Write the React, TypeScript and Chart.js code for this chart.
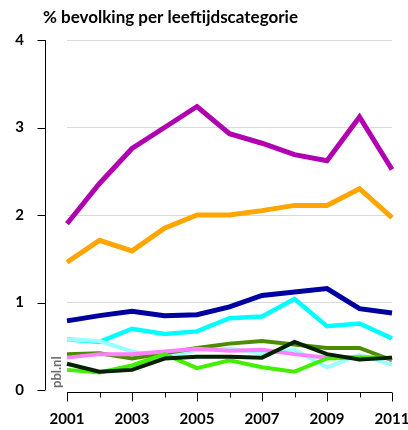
import React, { useEffect, useRef } from "react";
import { Chart, registerables } from "chart.js";

Chart.register(...registerables);

const years = ["2001", "2002", "2003", "2004", "2005", "2006", "2007", "2008", "2009", "2010", "2011"];
const yTicks = [0, 1, 2, 3, 4];
const title = "% bevolking per leeftijdscategorie";
const credit = "pbl.nl";

const magenta = [1.9, 2.36, 2.76, 3.0, 3.24, 2.93, 2.82, 2.69, 2.62, 3.12, 2.52];
const orange = [1.46, 1.71, 1.59, 1.85, 2.0, 2.0, 2.05, 2.11, 2.11, 2.3, 1.97];
const navy = [0.79, 0.85, 0.9, 0.85, 0.86, 0.95, 1.08, 1.12, 1.16, 0.93, 0.88];
const cyan = [0.58, 0.55, 0.7, 0.64, 0.67, 0.82, 0.84, 1.04, 0.73, 0.76, 0.59];
const lightCyan = [0.58, 0.56, 0.44, 0.37, 0.46, 0.47, 0.42, 0.46, 0.26, 0.4, 0.29];
const olive = [0.41, 0.42, 0.36, 0.42, 0.48, 0.53, 0.56, 0.52, 0.48, 0.48, 0.34];
const pink = [0.37, 0.41, 0.41, 0.44, 0.47, 0.45, 0.46, 0.41, 0.37, 0.38, 0.36];
const brightGreen = [0.23, 0.2, 0.28, 0.41, 0.25, 0.34, 0.26, 0.21, 0.36, 0.37, 0.37];
const dark = [0.3, 0.21, 0.23, 0.36, 0.38, 0.38, 0.37, 0.55, 0.41, 0.35, 0.37];

const series = [
  { data: dark, color: "#002200", width: 4 },
  { data: brightGreen, color: "#44EE00", width: 4 },
  { data: pink, color: "#FF80FF", width: 4 },
  { data: olive, color: "#4C8C00", width: 4 },
  { data: lightCyan, color: "#99FFFF", width: 4 },
  { data: cyan, color: "#00FFFF", width: 4.5 },
  { data: navy, color: "#0000A0", width: 5 },
  { data: orange, color: "#FFA500", width: 5 },
  { data: magenta, color: "#B000B0", width: 5 },
];

const decorPlugin = {
  id: "decor",
  afterDraw(chart: any) {
    const ctx: CanvasRenderingContext2D = chart.ctx;
    const y = chart.scales.y;
    const x = chart.scales.x;
    const area = chart.chartArea;
    ctx.save();
    ctx.setLineDash([]);
    ctx.globalAlpha = 1;
    ctx.globalCompositeOperation = "source-over";
    ctx.strokeStyle = "#000000";
    ctx.lineWidth = 1;
    const axX = 45.5;
    const yTop = y.getPixelForValue(4);
    const yBot = y.getPixelForValue(0);
    ctx.beginPath();
    ctx.moveTo(axX, yTop);
    ctx.lineTo(axX, yBot);
    yTicks.forEach((v) => {
      const py = Math.round(y.getPixelForValue(v)) + 0.5;
      ctx.moveTo(axX - 8, py);
      ctx.lineTo(axX, py);
    });
    const axY = Math.round(area.bottom) + 2.5;
    const x0 = x.getPixelForValue(0);
    const x1 = x.getPixelForValue(years.length - 1);
    ctx.moveTo(x0, axY);
    ctx.lineTo(x1, axY);
    years.forEach((_, i) => {
      const px = Math.round(x.getPixelForValue(i)) + 0.5;
      ctx.moveTo(px, axY);
      ctx.lineTo(px, axY + (i % 2 === 0 ? 9 : 5));
    });
    ctx.stroke();
    ctx.fillStyle = "#000";
    ctx.font = "bold 17px Lato";
    ctx.textBaseline = "alphabetic";
    ctx.textAlign = "left";
    ctx.fillText(title, 43, 23);
    ctx.translate(61, 388);
    ctx.rotate(-Math.PI / 2);
    ctx.fillStyle = "#707070";
    ctx.font = "bold 13px Lato";
    ctx.fillText(credit, 0, 0);
    ctx.restore();
  },
};

export default function App() {
  const ref = useRef<HTMLCanvasElement | null>(null);
  useEffect(() => {
    if (!ref.current) return;
    const chart = new Chart(ref.current, {
      type: "line",
      data: {
        labels: years,
        datasets: series.map((s) => ({
          data: s.data,
          borderColor: s.color,
          backgroundColor: s.color,
          borderWidth: s.width,
          pointRadius: 0,
          tension: 0,
          borderJoinStyle: "miter" as const,
          borderCapStyle: "butt" as const,
        })),
      },
      options: {
        animation: false,
        responsive: false,
        layout: { padding: { top: 40, right: 16, left: 0, bottom: 0 } },
        plugins: { legend: { display: false }, tooltip: { enabled: false }, title: { display: false } },
        scales: {
          x: {
            offset: false,
            grid: { display: false, drawTicks: false },
            border: { display: false },
            afterFit: (s: any) => {
              s.height = 40;
              s.paddingLeft = 0;
              s.paddingRight = 0;
            },
            ticks: {
              autoSkip: false,
              maxRotation: 0,
              padding: 20,
              color: "#000",
              font: { family: "Lato", weight: "bold", size: 15 },
              callback: (_v: any, i: number) => (i % 2 === 0 ? years[i] : ""),
            },
          },
          y: {
            min: 0,
            max: 4,
            afterFit: (s: any) => {
              s.width = 67;
              s.paddingTop = 0;
              s.paddingBottom = 0;
            },
            grid: {
              drawTicks: false,
              color: (c: any) => (c.tick && c.tick.value === 0 ? "rgba(0,0,0,0)" : "#d9d9d9"),
            },
            border: { display: false },
            ticks: {
              stepSize: 1,
              padding: 43,
              color: "#000",
              font: { family: "Lato", weight: "bold", size: 15 },
            },
          },
        },
      },
      plugins: [decorPlugin],
    });
    return () => chart.destroy();
  }, []);
  return (
    <div style={{ position: "absolute", left: 0, top: 0, width: 408, height: 430, background: "#fff" }}>
      <canvas ref={ref} width={408} height={430} style={{ display: "block" }} />
    </div>
  );
}
